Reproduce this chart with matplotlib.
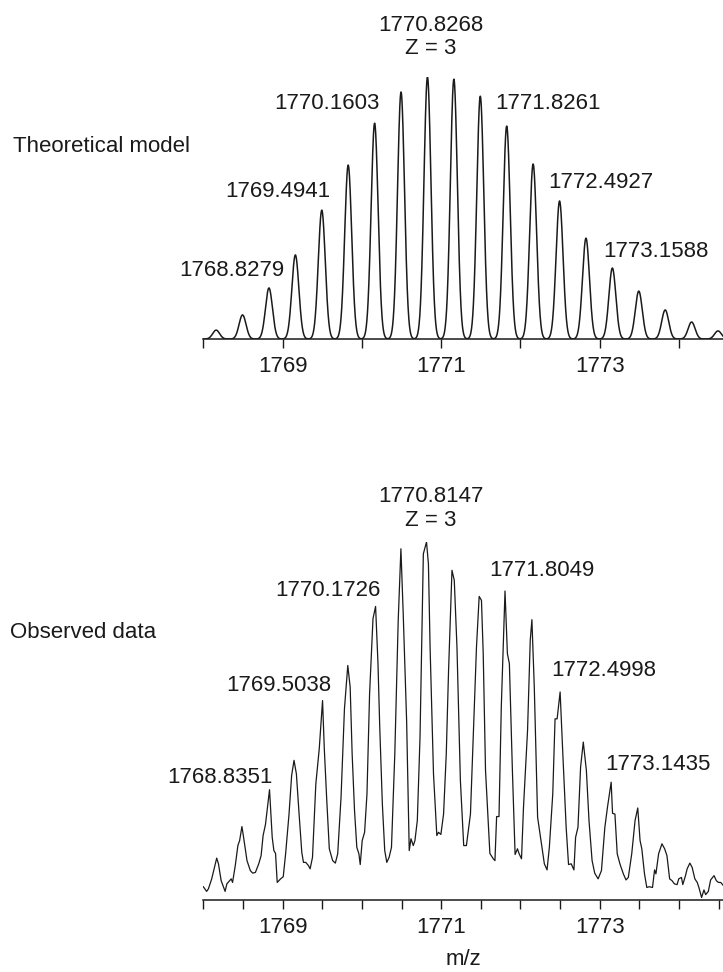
import numpy as np
import matplotlib.pyplot as plt

plt.rcParams['font.family'] = ['Liberation Sans', 'DejaVu Sans']

# theoretical isotope envelope, Z = 3 (centroid m/z, relative intensity)
theo_mz = [1768.1617, 1768.4948, 1768.8279, 1769.1610, 1769.4941, 1769.8272,
           1770.1603, 1770.4935, 1770.8268, 1771.1599, 1771.4930, 1771.8261,
           1772.1594, 1772.4927, 1772.8258, 1773.1588, 1773.4919, 1773.8250,
           1774.1581, 1774.4912]
theo_int = [3.4, 9.2, 19.5, 32.1, 49.2, 66.4, 82.4, 94.3, 100.0, 99.2,
            92.7, 81.3, 66.8, 52.7, 38.5, 27.1, 18.3, 11.1, 6.5, 3.1]
theo_labelled = [2, 4, 6, 8, 11, 13, 15]
peak_sigma = 0.044

# observed profile spectrum
obs_mz = [1768.000, 1768.042, 1768.064, 1768.106, 1768.169, 1768.191, 1768.225,
          1768.275, 1768.297, 1768.352, 1768.369, 1768.403, 1768.436, 1768.458,
          1768.487, 1768.508, 1768.551, 1768.593, 1768.623, 1768.657, 1768.699,
          1768.729, 1768.754, 1768.784, 1768.8351, 1768.869, 1768.890, 1768.911,
          1768.932, 1768.975, 1769.008, 1769.038, 1769.081, 1769.114, 1769.144,
          1769.174, 1769.208, 1769.242, 1769.263, 1769.292, 1769.326, 1769.347,
          1769.377, 1769.419, 1769.462, 1769.5038, 1769.525, 1769.555, 1769.589,
          1769.631, 1769.665, 1769.695, 1769.737, 1769.780, 1769.822, 1769.852,
          1769.877, 1769.907, 1769.936, 1769.962, 1769.979, 1770.004, 1770.034,
          1770.064, 1770.097, 1770.140, 1770.1726, 1770.203, 1770.225, 1770.258,
          1770.288, 1770.314, 1770.343, 1770.373, 1770.415, 1770.458, 1770.492,
          1770.521, 1770.564, 1770.597, 1770.619, 1770.648, 1770.669, 1770.699,
          1770.733, 1770.775, 1770.8147, 1770.839, 1770.860, 1770.903, 1770.945,
          1770.966, 1770.996, 1771.030, 1771.064, 1771.093, 1771.136, 1771.165,
          1771.199, 1771.242, 1771.284, 1771.318, 1771.369, 1771.411, 1771.445,
          1771.479, 1771.508, 1771.530, 1771.559, 1771.581, 1771.614, 1771.657,
          1771.678, 1771.699, 1771.729, 1771.758, 1771.8049, 1771.835, 1771.860,
          1771.898, 1771.932, 1771.962, 1771.983, 1772.013, 1772.038, 1772.089,
          1772.123, 1772.144, 1772.174, 1772.216, 1772.258, 1772.301, 1772.335,
          1772.364, 1772.407, 1772.436, 1772.462, 1772.4998, 1772.534, 1772.576,
          1772.606, 1772.640, 1772.674, 1772.695, 1772.725, 1772.758, 1772.792,
          1772.831, 1772.864, 1772.903, 1772.936, 1772.979, 1773.021, 1773.064,
          1773.097, 1773.1435, 1773.161, 1773.191, 1773.220, 1773.254, 1773.297,
          1773.331, 1773.360, 1773.403, 1773.445, 1773.479, 1773.508, 1773.530,
          1773.564, 1773.593, 1773.623, 1773.665, 1773.691, 1773.708, 1773.742,
          1773.784, 1773.818, 1773.847, 1773.881, 1773.911, 1773.941, 1773.975,
          1773.996, 1774.030, 1774.047, 1774.081, 1774.102, 1774.136, 1774.165,
          1774.199, 1774.229, 1774.250, 1774.284, 1774.314, 1774.335, 1774.369,
          1774.398, 1774.441, 1774.470, 1774.496, 1774.525, 1774.560]
obs_int = [3.7, 2.4, 3.1, 5.9, 11.7, 10.1, 5.4,
           2.4, 4.5, 5.9, 4.9, 9.6, 15.2, 16.6,
           20.5, 17.5, 11.0, 8.2, 7.5, 7.7, 10.1,
           12.4, 18.0, 21.1, 30.8, 17.5, 13.8, 13.0,
           4.9, 5.9, 6.5, 12.9, 24.0, 34.8, 39.0,
           35.2, 24.0, 13.3, 10.5, 10.5, 9.6, 8.7,
           11.9, 32.4, 42.2, 55.7, 42.7, 28.7, 14.3,
           11.0, 10.3, 12.9, 28.7, 53.4, 65.5, 59.5,
           40.8, 25.0, 14.7, 12.9, 9.9, 16.6, 18.9,
           29.6, 57.6, 78.6, 82.0, 66.0, 48.3, 26.8,
           13.8, 10.5, 11.9, 14.7, 40.8, 78.1, 98.1,
           80.0, 50.1, 13.8, 17.1, 15.2, 16.6, 22.2,
           45.5, 96.7, 100.0, 93.9, 70.6, 35.2, 18.0,
           18.9, 18.3, 24.0, 40.8, 64.1, 92.1, 89.3,
           70.6, 33.4, 15.2, 15.2, 24.0, 50.1, 70.6,
           84.8, 83.7, 68.8, 36.2, 26.8, 13.0, 11.5,
           11.0, 23.3, 23.3, 53.9, 86.3, 68.8, 66.0,
           36.2, 12.7, 14.3, 12.9, 11.5, 25.9, 47.3,
           72.5, 78.3, 59.5, 23.1, 16.6, 10.1, 8.4,
           14.7, 29.6, 50.6, 50.6, 58.1, 40.8, 20.3,
           9.9, 10.1, 8.4, 17.5, 20.3, 37.1, 44.1,
           36.2, 22.2, 11.0, 7.5, 5.9, 8.2, 20.3,
           25.9, 32.9, 24.2, 24.0, 12.9, 10.1, 7.3,
           5.6, 6.3, 12.9, 22.2, 25.7, 16.6, 14.3,
           7.3, 3.5, 3.7, 3.5, 8.4, 7.3, 12.9,
           15.7, 14.3, 12.4, 5.9, 5.4, 4.5, 4.3,
           5.9, 6.3, 4.3, 6.8, 8.7, 10.3, 9.1,
           5.9, 4.9, 3.5, 0.7, 2.8, 1.5, 2.4,
           5.6, 6.8, 5.4, 4.9, 4.9, 4.0]
obs_labelled = [1768.8351, 1769.5038, 1770.1726, 1770.8147,
                1771.8049, 1772.4998, 1773.1435]
charge = 3

# text anchor points (data coords) for the peak annotations
theo_text_xy = [(1768.356, 26.1), (1768.939, 56.5), (1769.557, 90.1),
                (1770.871, 119.8), (1772.351, 90.1), (1773.009, 59.7),
                (1773.705, 33.6)]
obs_text_xy = [(1768.204, 34.1), (1768.946, 60.0), (1769.576, 86.4),
               (1770.871, 112.6), (1772.276, 92.1), (1773.044, 64.2),
               (1773.738, 37.8)]

ink = '#1a1a1a'
fs = 16
xlo, xhi = 1768.0, 1774.554

fig = plt.figure(figsize=(7.23, 9.72), dpi=100)
ax_t = fig.add_axes([0.2812, 0.6512, 0.7188, 0.2695])
ax_b = fig.add_axes([0.2812, 0.0741, 0.7188, 0.3683])


def style(ax, ticks, labelled):
    for side in ('left', 'right', 'top'):
        ax.spines[side].set_visible(False)
    ax.spines['bottom'].set_color(ink)
    ax.spines['bottom'].set_linewidth(1.1)
    ax.set_yticks([])
    ax.set_xticks(ticks)
    ax.set_xticklabels([str(int(t)) if t in labelled else '' for t in ticks])
    ax.tick_params(axis='x', direction='out', length=6.5, width=1.0,
                   color=ink, labelcolor=ink, labelsize=fs, pad=6)
    ax.set_xlim(xlo, xhi)
    ax.set_ylim(0, 100)
    ax.patch.set_alpha(0)


# theoretical model: gaussian profile built from the centroid list
grid = np.arange(xlo, xhi + 0.002, 0.002)
profile = np.zeros_like(grid)
for c, h in zip(theo_mz, theo_int):
    profile += h * np.exp(-(grid - c) ** 2 / (2 * peak_sigma ** 2))
ax_t.plot(grid, profile, color=ink, lw=1.1)
style(ax_t, [1768, 1769, 1770, 1771, 1772, 1773, 1774], [1769, 1771, 1773])

for i, (tx, ty) in zip(theo_labelled, theo_text_xy):
    ax_t.text(tx, ty, f'{theo_mz[i]:.4f}', ha='center', va='center',
              fontsize=fs, color=ink, clip_on=False)
ax_t.text(theo_text_xy[3][0], theo_text_xy[3][1] - 8.7, f'Z = {charge}',
          ha='center', va='center', fontsize=fs, color=ink, clip_on=False)

# observed data
ax_b.plot(obs_mz, obs_int, color=ink, lw=0.9)
style(ax_b, list(np.arange(1768, 1774.51, 0.5)), [1769, 1771, 1773])
ax_b.set_xlabel('m/z', fontsize=fs, color=ink, labelpad=8)

for mz, (tx, ty) in zip(obs_labelled, obs_text_xy):
    ax_b.text(tx, ty, f'{mz:.4f}', ha='center', va='center',
              fontsize=fs, color=ink, clip_on=False)
ax_b.text(obs_text_xy[3][0], obs_text_xy[3][1] - 6.5, f'Z = {charge}',
          ha='center', va='center', fontsize=fs, color=ink, clip_on=False)

fig.text(13 / 723, 1 - 146 / 972, 'Theoretical model', ha='left', va='center',
         fontsize=fs, color=ink)
fig.text(10 / 723, 1 - 633 / 972, 'Observed data', ha='left', va='center',
         fontsize=fs, color=ink)

fig.savefig('out.png', dpi=100)
